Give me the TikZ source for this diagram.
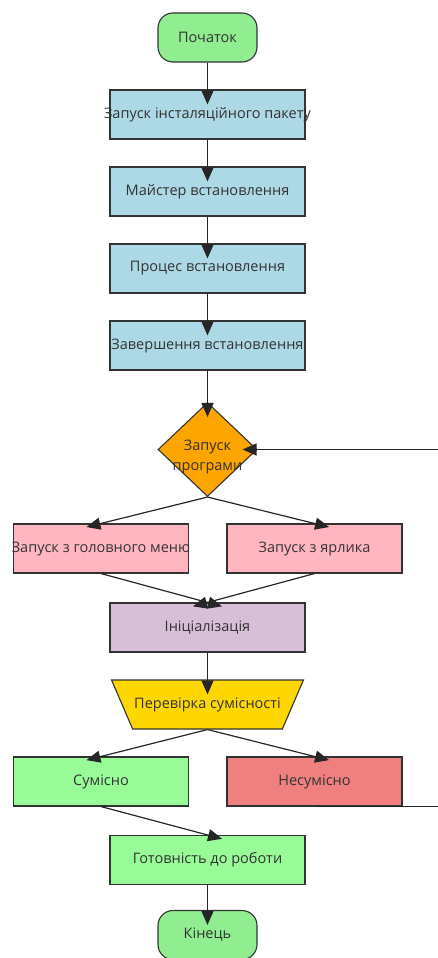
\documentclass[tikz,border=0pt]{standalone}
\usepackage{fontspec}
\setmainfont{Open Sans}
\usepackage{tikz}
\usetikzlibrary{shapes.geometric, arrows.meta}

\definecolor{startgreen}{HTML}{90EE90}
\definecolor{stepblue}{HTML}{ADD8E6}
\definecolor{choiceorange}{HTML}{FFA500}
\definecolor{launchpink}{HTML}{FFB6C1}
\definecolor{initviolet}{HTML}{D8BFD8}
\definecolor{checkgold}{HTML}{FFD700}
\definecolor{okgreen}{HTML}{98FB98}
\definecolor{failred}{HTML}{F08080}
\definecolor{edgegray}{HTML}{333333}

\newcommand{\overtext}[1]{\makebox[0pt][c]{#1}}

\begin{document}
\begin{tikzpicture}[x=1pt, y=1pt, node distance=77pt, font=\fontsize{14.5}{20}\selectfont, text=black!80]
		\tikzstyle{terminal} = [rectangle, rounded corners=15pt, minimum width=99pt, minimum height=49pt, inner sep=0pt, draw=edgegray, line width=1.1pt, fill=startgreen]
		
		\tikzstyle{stepbox} = [rectangle, minimum width=195pt, minimum height=49pt, inner sep=0pt, draw=edgegray, line width=1.1pt]
		
		\tikzstyle{sidebox} = [rectangle, minimum width=175pt, minimum height=49pt, inner sep=0pt, draw=edgegray, line width=1.1pt]
		
		\tikzstyle{decision} = [diamond, minimum width=99pt, minimum height=94pt, inner sep=0pt, draw=edgegray, line width=1.1pt, fill=choiceorange, align=center]
		
		\tikzstyle{checkbox} = [trapezium, shape border rotate=180, trapezium stretches=true, trapezium angle=46, minimum width=192pt, minimum height=49pt, inner xsep=48.5pt, inner ysep=0pt, draw=edgegray, line width=1.1pt, fill=checkgold]
		
		\tikzstyle{arrow} = [-{Triangle[length=14pt, width=12pt]}, shorten >=-15pt, line width=1.2pt, black!85]
		
		\useasboundingbox (0,0) rectangle (438,-958);
		
		% Installation part
		\node (start) [terminal] at (207.5,-37.5) {\overtext{Початок}};
		\node (pack) [stepbox, fill=stepblue, below of = start] {\overtext{Запуск інсталяційного пакету}};
		\node (wizard) [stepbox, fill=stepblue, below of = pack] {\overtext{Майстер встановлення}};
		\node (proc) [stepbox, fill=stepblue, below of = wizard] {\overtext{Процес встановлення}};
		\node (finish) [stepbox, fill=stepblue, below of = proc] {\overtext{Завершення встановлення}};
		
		% Launch part
		\node (prog) [decision, below of = finish, yshift=-27pt] {\raisebox{-7pt}[\height][\depth]{\overtext{Запуск}}\\\raisebox{-7pt}[\height][\depth]{\overtext{програми}}};
		\node (menu) [sidebox, fill=launchpink, below of = prog, xshift=-106.5pt, yshift=-22pt] {\overtext{Запуск з головного меню}};
		\node (shortcut) [sidebox, fill=launchpink, below of = prog, xshift=107pt, yshift=-22pt] {\overtext{Запуск з ярлика}};
		\node (init) [stepbox, fill=initviolet, below of = prog, yshift=-101pt] {\overtext{Ініціалізація}};
		
		% Check part
		\node (check) [checkbox, below of = init] {\overtext{Перевірка сумісності}};
		\node (compat) [sidebox, fill=okgreen, below of = check, xshift=-106.5pt] {\overtext{Сумісно}};
		\node (nocompat) [sidebox, fill=failred, below of = check, xshift=107pt] {\overtext{Несумісно}};
		\node (ready) [stepbox, fill=okgreen, below of = check, yshift=-78.5pt] {\overtext{Готовність до роботи}};
		\node (stop) [terminal, below of = ready, yshift=2pt] {\overtext{Кінець}};
		
		% Arrows
		\draw [arrow] (start.south) -- (pack.north);
		\draw [arrow] (pack.south) -- (wizard.north);
		\draw [arrow] (wizard.south) -- (proc.north);
		\draw [arrow] (proc.south) -- (finish.north);
		\draw [arrow] (finish.south) -- (prog.north);
		\draw [arrow] (prog.south) -- (menu.north);
		\draw [arrow] (prog.south) -- (shortcut.north);
		\draw [arrow] (menu.south) -- (init.north);
		\draw [arrow] (shortcut.south) -- (init.north);
		\draw [arrow] (init.south) -- (check.bottom side);
		\draw [arrow] (check.top side) -- (compat.north);
		\draw [arrow] (check.top side) -- (nocompat.north);
		\draw [arrow] (compat.south) -- (ready.north);
		\draw [arrow] (ready.south) -- (stop.north);
		\draw [arrow] (nocompat.south) -- ++(150pt,0) |- (prog.east);
		
\end{tikzpicture}
\end{document}
